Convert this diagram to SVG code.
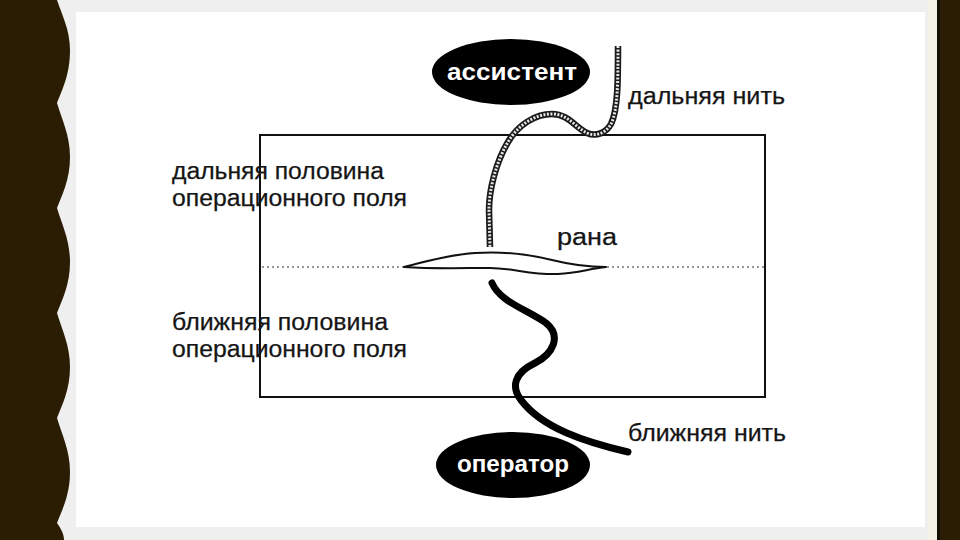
<svg xmlns="http://www.w3.org/2000/svg" width="960" height="540" viewBox="0 0 960 540">
  <style>
    .lbl { font-family: "Liberation Sans", Arial, sans-serif; font-size: 23px; fill: #151515; stroke: #151515; stroke-width: 0.25; }
    .nodetxt { font-family: "Liberation Sans", Arial, sans-serif; font-size: 24px; font-weight: bold; fill: #ffffff; }
    .blob { fill: #000000; }
  </style>
  <!-- backdrop -->
  <rect x="0" y="0" width="960" height="540" fill="#efefef"/>
  <rect x="76" y="12" width="849" height="515" fill="#ffffff"/>
  <rect x="928" y="0" width="10" height="540" fill="#f4f2e7"/>
  <rect x="937" y="0" width="3" height="540" fill="#140e02"/>
  <rect x="940" y="0" width="20" height="540" fill="#2b1d03"/>
  <path d="M0,0 H57 C 62,15 70,30 70,50 C 70,75 62,90 57,103 C 62,120 70,135 70,157 C 70,180 62,195 57,208 C 62,225 70,240 70,262 C 70,285 62,300 57,313 C 62,330 70,345 70,367 C 70,390 62,405 57,418 C 62,435 70,450 70,472 C 70,495 62,510 57,523 C 62,530 64,535 64,540 H0 Z" fill="#2b1d03"/>

  <!-- operative field -->
  <g id="field">
    <rect x="260" y="135" width="505" height="262" fill="none" stroke="#111" stroke-width="2"/>
    <line x1="262" y1="267" x2="764" y2="267" stroke="#333" stroke-width="1.2" stroke-dasharray="2 3"/>
  </g>

  <g id="wound">
    <path d="M404,267 C 425,262 445,255 475,253 C 505,251 532,255 552,260 C 572,265 588,267 606,267 C 588,269 578,273 558,274 C 532,275 512,268 490,268 C 462,268 432,269 404,267 Z" fill="#ffffff" stroke="#111" stroke-width="2" stroke-linejoin="round"/>
  </g>

  <g id="connectors">
    <!-- far thread (light, outlined) -->
    <path id="far-thread" d="M618,46 C 618,80 618,110 611,124 C 606,133 596,137 587,133 C 575,127 568,114 552,114 C 535,114 518,125 508,142 C 496,162 489,190 489,210 L 490,247" fill="none" stroke="#1a1a1a" stroke-width="6.5" stroke-linecap="butt"/>
    <path d="M618,46 C 618,80 618,110 611,124 C 606,133 596,137 587,133 C 575,127 568,114 552,114 C 535,114 518,125 508,142 C 496,162 489,190 489,210 L 490,247" fill="none" stroke="#e6e6e6" stroke-width="3" stroke-dasharray="2 1.5"/>
    <!-- near thread (black) -->
    <path id="near-thread" d="M492,283 C 500,302 528,310 546,323 C 562,336 553,354 535,363 C 514,373 511,387 521,400 C 542,428 585,442 628,452" fill="none" stroke="#000" stroke-width="7" stroke-linecap="round"/>
  </g>

  <g id="assistant">
    <ellipse class="blob" cx="511" cy="72" rx="79" ry="33"/>
    <text class="nodetxt" x="512" y="80" text-anchor="middle" textLength="130" lengthAdjust="spacingAndGlyphs">ассистент</text>
  </g>

  <g id="operator">
    <ellipse class="blob" cx="513" cy="465" rx="77" ry="33"/>
    <text class="nodetxt" x="513" y="472" text-anchor="middle" textLength="112" lengthAdjust="spacingAndGlyphs">оператор</text>
  </g>

  <g id="labels">
    <text class="lbl" x="628" y="104" textLength="157" lengthAdjust="spacingAndGlyphs">дальняя нить</text>
    <text class="lbl" x="557" y="245" textLength="60" lengthAdjust="spacingAndGlyphs">рана</text>
    <text class="lbl" x="628" y="441" textLength="158" lengthAdjust="spacingAndGlyphs">ближняя нить</text>
    <text class="lbl" x="172" y="179" textLength="212" lengthAdjust="spacingAndGlyphs">дальняя половина</text>
    <text class="lbl" x="172" y="206" textLength="235" lengthAdjust="spacingAndGlyphs">операционного поля</text>
    <text class="lbl" x="172" y="330" textLength="216" lengthAdjust="spacingAndGlyphs">ближняя половина</text>
    <text class="lbl" x="172" y="357" textLength="235" lengthAdjust="spacingAndGlyphs">операционного поля</text>
  </g>
</svg>
